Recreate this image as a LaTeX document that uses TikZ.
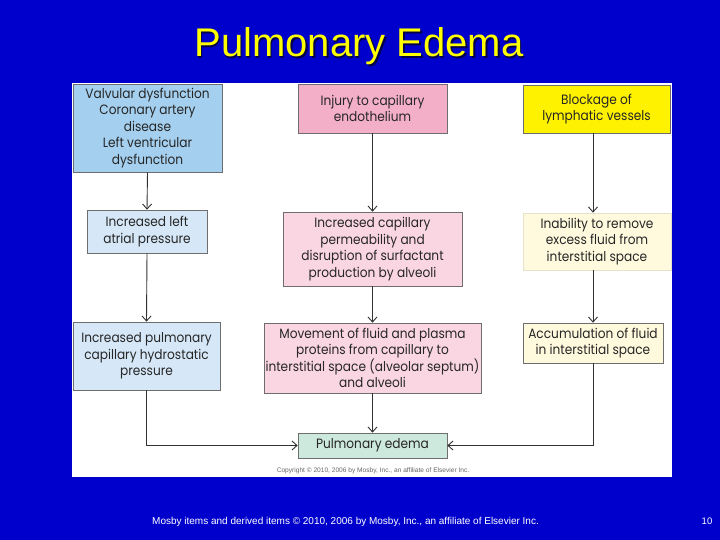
\documentclass[tikz,border=0pt]{standalone}
\usepackage{fontspec}
\setmainfont{Liberation Sans}
\newfontfamily\boxfont{Poppins}[FakeStretch=0.9]
\usetikzlibrary{arrows.meta}
\definecolor{slideblue}{RGB}{0,0,204}
\definecolor{titleyel}{RGB}{255,255,0}
\definecolor{bluedark}{RGB}{164,207,238}
\definecolor{bluelite}{RGB}{214,232,247}
\definecolor{pinkdark}{RGB}{244,175,200}
\definecolor{pinklite}{RGB}{250,214,226}
\definecolor{yeldark}{RGB}{255,242,0}
\definecolor{yellite}{RGB}{255,250,222}
\definecolor{greenlite}{RGB}{205,232,220}
\definecolor{edgegray}{RGB}{110,110,110}
\definecolor{linegray}{RGB}{50,50,50}
\tikzset{
  flowbox/.style={draw=edgegray, line width=0.7pt, inner sep=0pt, align=center,
    font=\boxfont\fontsize{13.5}{16.5}\selectfont, text=black!85},
  arr/.style={draw=linegray, line width=0.9pt, -{Straight Barb[length=5pt,width=9pt]}},
  plain/.style={draw=linegray, line width=0.9pt}
}
\begin{document}
\begin{tikzpicture}[x=1pt,y=-1pt]
\fill[slideblue] (0,0) rectangle (720,540);
\useasboundingbox (0,0) rectangle (720,540);
\fill[white] (72,83) rectangle (672,477);
% title
\node[anchor=base, text=black!70!blue, font=\fontsize{40}{44}\selectfont] at (360.5,58.5) {Pulmonary Edema};
\node[anchor=base, text=titleyel, font=\fontsize{40}{44}\selectfont] (title) at (359,57) {Pulmonary Edema};
% boxes
\node[flowbox, fill=bluedark, minimum width=149pt, minimum height=88pt] (val) at (147.5,128)
  {Valvular dysfunction\\Coronary artery\\disease\\Left ventricular\\dysfunction};
\node[flowbox, fill=bluelite, minimum width=120pt, minimum height=43pt] (atr) at (147,231.5)
  {Increased left\\atrial pressure};
\node[flowbox, fill=bluelite, minimum width=147pt, minimum height=68pt] (hyd) at (146.5,356)
  {Increased pulmonary\\capillary hydrostatic\\pressure};
\node[flowbox, fill=pinkdark, minimum width=149pt, minimum height=49pt] (inj) at (372.5,108.5)
  {Injury to capillary\\endothelium};
\node[flowbox, fill=pinklite, minimum width=179pt, minimum height=74pt] (perm) at (372.5,249)
  {Increased capillary\\permeability and\\disruption of surfactant\\production by alveoli};
\node[flowbox, fill=pinklite, minimum width=217pt, minimum height=70pt] (mov) at (372.5,358)
  {Movement of fluid and plasma\\proteins from capillary to\\interstitial space (alveolar septum)\\and alveoli};
\node[flowbox, fill=greenlite, minimum width=149pt, minimum height=25pt] (ede) at (372.5,445.5)
  {Pulmonary edema};
\node[flowbox, fill=yeldark, minimum width=147pt, minimum height=48pt] (blk) at (596.5,109)
  {Blockage of\\lymphatic vessels};
\node[flowbox, fill=yellite, draw=yellite!80!gray, minimum width=148pt, minimum height=57pt] (inab) at (597,241.5)
  {Inability to remove\\excess fluid from\\interstitial space};
\node[flowbox, fill=yellite, minimum width=140pt, minimum height=40pt] (acc) at (593,343)
  {Accumulation of fluid\\in interstitial space};
% connectors
\draw[arr] (val.south) -- (atr.north);
\draw[arr] (atr.south) -- (hyd.north);
\draw[arr] (hyd.south) |- (ede.west);
\draw[arr] (inj.south) -- (perm.north);
\draw[arr] (perm.south) -- (mov.north);
\draw[arr] (mov.south) -- (ede.north);
\draw[arr] (acc.north |- blk.south) -- (acc.north |- inab.north);
\draw[arr] (acc.north |- inab.south) -- (acc.north);
\draw[arr] (acc.south) |- (ede.east);
% small copyright inside panel
\node[anchor=base, text=black!60, font=\fontsize{6.6}{8}\selectfont] (cpy) at (373,472)
  {Copyright \textcopyright\ 2010, 2006 by Mosby, Inc., an affiliate of Elsevier Inc.};
% footer
\node[anchor=base west, text=white, font=\fontsize{10}{12}\selectfont, inner sep=0pt] (foot) at (152,524)
  {Mosby items and derived items \textcopyright\ 2010, 2006 by Mosby, Inc., an affiliate of Elsevier Inc.};
\node[anchor=base, text=white, font=\fontsize{9.5}{11}\selectfont] (pg) at (707,524) {10};
\end{tikzpicture}
\end{document}
